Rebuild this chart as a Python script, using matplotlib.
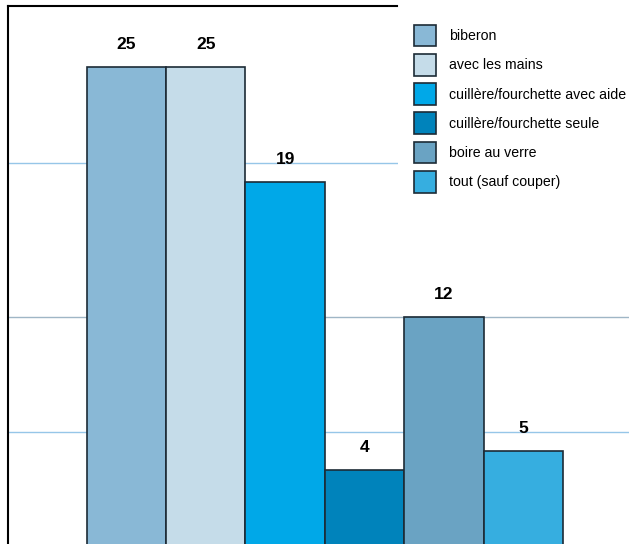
import matplotlib
matplotlib.use("Agg")
import matplotlib.pyplot as plt
from matplotlib.patches import Patch

plt.rcParams['font.family'] = ['Liberation Sans', 'DejaVu Sans']

# data
labels = ["biberon", "avec les mains", "cuillère/fourchette avec aide",
          "cuillère/fourchette seule", "boire au verre", "tout (sauf couper)"]
values = [25, 25, 19, 4, 12, 5]
colors = ["#89b8d6", "#c5dce9", "#00a8e8", "#0083bb", "#6aa3c3", "#36aee0"]
grid_vals = [6, 12, 20]
grid_cols = ["#96c6e8", "#9fb6c6", "#96c6e8"]

fig = plt.figure(figsize=(6.29, 5.44), dpi=100)
# axes runs off the bottom/right edge like the cropped original
ax = fig.add_axes([8 / 629, -3 / 544, 1 - 8 / 629, 541 / 544])

x = list(range(len(values)))
ax.bar(x, values, width=1.0, color=colors, edgecolor="#1c2b36", linewidth=1.2, zorder=3)

for gv, gc in zip(grid_vals, grid_cols):
    ax.axhline(gv, color=gc, linewidth=1.0, zorder=1)

for xi, v in zip(x, values):
    ax.annotate(str(v), (xi, v), xytext=(0, 11), textcoords="offset points",
                ha="center", va="bottom", fontsize=12.5, fontweight="bold")

ax.set_xlim(-1.49, 6.33)
ax.set_ylim(0, 28.2)
ax.set_xticks([])
ax.set_yticks([])
for s in ["right", "bottom"]:
    ax.spines[s].set_visible(False)
ax.spines["left"].set_linewidth(1.5)
ax.spines["top"].set_linewidth(1.5)
ax.spines["top"].set_bounds(-1.49, 3.41)

handles = [Patch(facecolor=c, edgecolor="#1c2b36", linewidth=1.2) for c in colors]
leg = fig.legend(handles, labels, loc="upper left", bbox_to_anchor=(398 / 629, 1 - 9 / 544),
                 frameon=True, fontsize=10.2, handlelength=1.6, handleheight=2.0,
                 labelspacing=0.52, handletextpad=0.9, borderpad=1.1, borderaxespad=0)
leg.get_frame().set_facecolor("white")
leg.get_frame().set_edgecolor("none")
leg.get_frame().set_alpha(1)

fig.savefig("out.png", dpi=100)
